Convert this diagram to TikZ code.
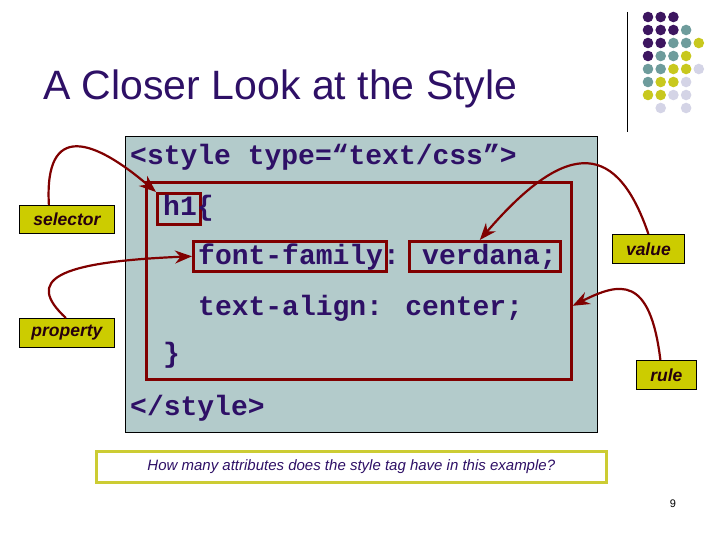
\documentclass[tikz,border=0pt]{standalone}
\usepackage{fontspec}
\setmainfont{Liberation Sans}
\newfontfamily\codefont{Liberation Mono}
\usetikzlibrary{arrows.meta}
\definecolor{ttl}{HTML}{2E1066}
\definecolor{codebg}{HTML}{B3CBCB}
\definecolor{dred}{HTML}{800000}
\definecolor{lab}{HTML}{CCCC00}
\definecolor{qbord}{HTML}{CCCC33}
\definecolor{dP}{HTML}{3D1660}
\definecolor{dT}{HTML}{6E9C9C}
\definecolor{dY}{HTML}{C8C81E}
\definecolor{dL}{HTML}{D4D4E6}
\begin{document}
\begin{tikzpicture}[x=1pt,y=-1pt,
  code/.style={anchor=base west,inner sep=0,font=\codefont\bfseries\fontsize{28}{28}\selectfont,text=ttl},
  hl/.style={draw=dred,line width=2.6pt},
  lbl/.style={draw=black,fill=lab,line width=0.8pt,font=\bfseries\itshape\fontsize{17.5}{17.5}\selectfont,text=black!80!purple,inner sep=0},
  conn/.style={draw=dred,line width=2.2pt,-{Stealth[length=17pt,width=13pt]}}]
\useasboundingbox (0,0) rectangle (720,540);
% title
\node[anchor=base west,inner sep=0,font=\fontsize{41}{41}\selectfont,text=ttl] (title) at (43,100) {A Closer Look at the Style};
\draw[line width=0.8pt] (627,12) -- (627,132);
% dots
\foreach \row/\cols in {0/{P,P,P},1/{P,P,P,T},2/{P,P,T,T,Y},3/{P,T,T,Y},4/{T,T,Y,Y,L},5/{T,Y,Y,L},6/{Y,Y,L,L},7/{N,L,N,L}}{
  \foreach \c [count=\j from 0] in \cols {
    \if\c N\else
    \fill[color=d\c] (648+12.7*\j,17+13*\row) circle (5.3);
    \fi
  }
}
% code box
\node[draw=black,fill=codebg,line width=0.8pt,minimum width=472pt,minimum height=296pt,anchor=north west,inner sep=0] (cbox) at (125,136) {};
\node[hl,minimum width=425pt,minimum height=197pt,anchor=north west,inner sep=0] (rulebox) at (145,181) {};
\node[hl,minimum width=43pt,minimum height=31pt,anchor=north west,inner sep=0] (h1box) at (156,192) {};
\node[hl,minimum width=193pt,minimum height=30pt,anchor=north west,inner sep=0] (ffbox) at (192,240) {};
\node[hl,minimum width=151pt,minimum height=30pt,anchor=north west,inner sep=0] (vbox) at (408,240) {};
\node[code] (l1) at (130,165) {<style type=“text/css”>};
\node[code] (l2) at (163,215) {h1\{};
\node[code] (l3) at (198,264) {font-family: verdana;};
\node[code] (l4) at (198,315) {text-align: center;};
\node[code] (l5) at (163,362) {\}};
\node[code] (l6) at (130,415) {</style>};
% labels
\node[lbl,minimum width=95pt,minimum height=28pt,anchor=north west] (sel) at (19,205) {selector};
\node[lbl,minimum width=95pt,minimum height=29pt,anchor=north west] (prop) at (19,318) {property};
\node[lbl,minimum width=72pt,minimum height=29pt,anchor=north west] (val) at (612,234) {value};
\node[lbl,minimum width=60pt,minimum height=29pt,anchor=north west] (rul) at (636,360) {rule};
% arrows
\draw[conn] ([xshift=-18pt]sel.north) .. controls (44,120) and (95,140) .. (h1box.north west);
\draw[conn] ([xshift=-1pt]prop.north) .. controls (25,280) and (55,262) .. (ffbox.west);
\draw[conn] (val.north) .. controls (618,145) and (570,135) .. ([xshift=-5pt]vbox.north);
\draw[conn] ([xshift=-6pt]rul.north) .. controls (650,275) and (620,282) .. ([yshift=-25pt]rulebox.east);
% question
\node[draw=qbord,line width=2.6pt,fill=white,minimum width=510pt,minimum height=31pt,anchor=north west,inner sep=0] (qbox) at (95,450) {};
\node[font=\itshape\fontsize{15}{15}\selectfont,text=ttl] (q) at (qbox.center) {How many attributes does the style tag have in this example?};
\node[font=\fontsize{11}{11}\selectfont,anchor=base] (pn) at (673,507) {9};
\end{tikzpicture}
\end{document}
